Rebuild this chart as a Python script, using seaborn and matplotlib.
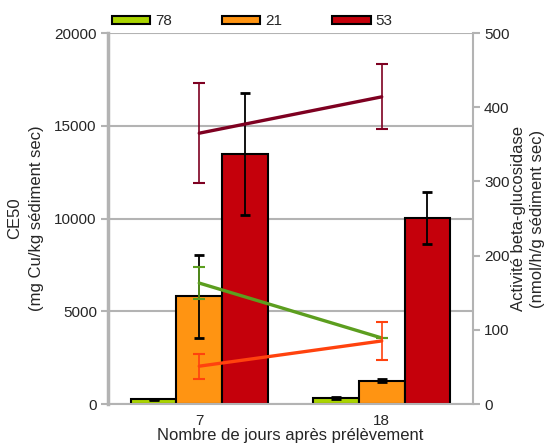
import matplotlib

matplotlib.use("Agg")
import matplotlib.pyplot as plt
import numpy as np
import pandas as pd
import seaborn as sns

# ---------------------------------------------------------------------------
# Data
# ---------------------------------------------------------------------------
days = ["7", "18"]
samples = ["78", "21", "53"]

# bars -> left axis
bar_mean = {"78": [250, 340], "21": [5800, 1250], "53": [13480, 10040]}
bar_err = {"78": [40, 55], "21": [2260, 90], "53": [3300, 1410]}

# lines -> right axis
line_mean = {"78": [163, 89], "21": [51, 85], "53": [365, 414]}
line_err = {"78": [21, 0], "21": [17, 26], "53": [67, 44]}

left_ticks = [0, 5000, 10000, 15000, 20000]
right_ticks = [0, 100, 200, 300, 400, 500]

bar_colors = ["#aad400", "#ff9412", "#c5000b"]
line_colors = ["#5c9e1f", "#ff420e", "#7e0021"]
grey = "#b3b3b3"

sns.set_theme(style="white")
plt.rcParams["font.family"] = ["Liberation Sans", "DejaVu Sans"]
plt.rcParams["font.size"] = 10

bars = pd.DataFrame(
    [(d, s, bar_mean[s][i]) for s in samples for i, d in enumerate(days)],
    columns=["jour", "echantillon", "valeur"],
)
pos = np.arange(len(days))
lines = pd.DataFrame(
    [(pos[i], s, line_mean[s][i]) for s in samples for i in range(len(days))],
    columns=["pos", "echantillon", "valeur"],
)

fig = plt.figure(figsize=(5.47, 4.45), dpi=100)
ax = fig.add_axes([0.1974, 0.0921, 0.6673, 0.8337])

sns.barplot(
    data=bars, x="jour", y="valeur", hue="echantillon",
    order=days, hue_order=samples, palette=bar_colors, saturation=1,
    width=0.75, edgecolor="black", linewidth=1.5,
    errorbar=None, ax=ax,
)
for cont, s in zip(ax.containers, samples):
    xs = [b.get_x() + b.get_width() / 2 for b in cont]
    ys = [b.get_height() for b in cont]
    ax.errorbar(xs, ys, yerr=bar_err[s], fmt="none", ecolor="black",
                elinewidth=1.3, capsize=3.5, capthick=2, zorder=5)

ax.set_xlim(-0.5, len(days) - 0.5)
ax.set_ylim(0, 20000)
ax.set_yticks(left_ticks)
ax.yaxis.grid(True, color=grey, linewidth=1.5)
ax.set_axisbelow(True)
ax.set_xticks(pos)
ax.set_xticklabels(days)
ax.set_xticks(np.arange(len(days) + 1) - 0.5, minor=True)
ax.tick_params(axis="x", which="major", length=0, pad=7)
ax.tick_params(axis="x", which="minor", length=6, width=2, color=grey)
ax.tick_params(axis="y", length=5, width=1.5, color=grey, pad=3, left=True)
for side in ["top", "right"]:
    ax.spines[side].set_visible(False)
ax.spines["left"].set_color(grey)
ax.spines["left"].set_linewidth(2.5)
ax.spines["bottom"].set_color(grey)
ax.spines["bottom"].set_linewidth(1.5)

ax.set_xlabel("Nombre de jours après prélèvement", labelpad=0)
ax.set_ylabel("CE50\n(mg Cu/kg sédiment sec)", linespacing=1.6)
ax.yaxis.set_label_coords(-0.175, 0.5)

# secondary axis with the lines
ax2 = ax.twinx()
sns.lineplot(
    data=lines, x="pos", y="valeur", hue="echantillon",
    hue_order=samples, palette=line_colors, linewidth=2.4,
    legend=False, ax=ax2,
)
for s, c in zip(samples, line_colors):
    ax2.errorbar(pos, line_mean[s], yerr=line_err[s], fmt="none", ecolor=c,
                 elinewidth=1.2, capsize=4, capthick=1.5)

ax2.set_ylim(0, 500)
ax2.set_yticks(right_ticks)
ax2.tick_params(axis="y", length=5, width=1.5, color=grey, pad=3, right=True)
for side in ["top", "left", "bottom"]:
    ax2.spines[side].set_visible(False)
ax2.spines["right"].set_color(grey)
ax2.spines["right"].set_linewidth(1.5)
ax2.set_xlabel("")
ax2.set_ylabel("Activité beta-glucosidase\n(nmol/h/g sédiment sec)",
               linespacing=1.3)
ax2.yaxis.set_label_coords(1.105, 0.5)

sns.move_legend(
    ax, "center left", bbox_to_anchor=(0.205, 0.952),
    bbox_transform=fig.transFigure, ncol=3, frameon=False, title=None,
    handlelength=2.5, handleheight=0.5, handletextpad=0.3,
    columnspacing=3.3, borderpad=0, borderaxespad=0,
)

fig.savefig("out.png", dpi=100)
